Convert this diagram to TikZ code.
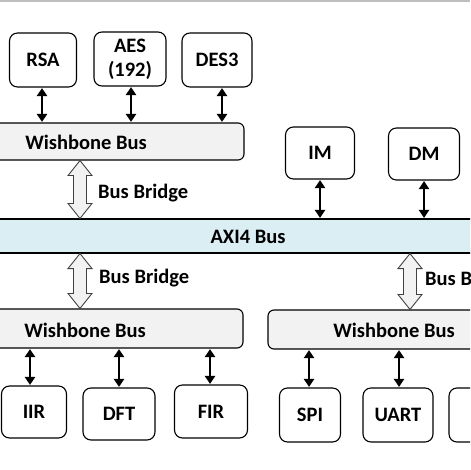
\documentclass[tikz,border=0pt]{standalone}
\usepackage{fontspec}
\setmainfont{Carlito}
\usetikzlibrary{arrows.meta,calc}
\definecolor{axiblue}{HTML}{DAEEF3}
\definecolor{wbgray}{HTML}{F2F2F2}
\definecolor{topline}{HTML}{BFBFBF}
\begin{document}
\begin{tikzpicture}[x=1pt,y=-1pt,
  font=\fontsize{20.5}{22}\selectfont\bfseries,
  ipbox/.style={draw=black,line width=1.1pt,rounded corners=8pt,fill=white,inner sep=0pt,align=center},
  busbar/.style={draw=black,line width=1.1pt,inner sep=0pt},
  wbbar/.style={busbar,rounded corners=6pt,fill=wbgray},
  link/.style={line width=2.4pt,{Triangle[length=8pt,width=10pt]}-{Triangle[length=8pt,width=10pt]},shorten <=0.5pt,shorten >=0.5pt},
  bridge/.style={draw=black!75,line width=0.9pt,fill=wbgray,line join=miter},
  lbl/.style={inner sep=0pt,anchor=west}]
\useasboundingbox (0,0) rectangle (470,470);
\clip (0,0) rectangle (470,470);
\fill[white] (0,0) rectangle (470,470);
\fill[topline] (0,0) rectangle (470,2.5);

% buses
\node[wbbar,minimum width=254,minimum height=37] (wbtop) at (117,141.5) {};
\node[inner sep=0pt] (wbtopl) at (86,142) {Wishbone Bus};
\node[busbar,fill=axiblue,minimum width=490,minimum height=34] (axi) at (235,236) {};
\node[inner sep=0pt] (axil) at (248,237) {AXI4 Bus};
\node[wbbar,minimum width=254,minimum height=39] (wbbl) at (116,328.5) {};
\node[inner sep=0pt] (wbbll) at (85,330) {Wishbone Bus};
\node[wbbar,minimum width=252,minimum height=39] (wbbr) at (394,329.5) {};
\node[inner sep=0pt] (wbbrl) at (394,330) {Wishbone Bus};

% IP blocks
\node[ipbox,minimum width=67,minimum height=54] (rsa) at (43,60) {RSA};
\node[ipbox,minimum width=72,minimum height=54,font=\fontsize{20.5}{24}\selectfont\bfseries] (aes) at (130,59) {AES\\(192)};
\node[ipbox,minimum width=70,minimum height=54] (des) at (217,60) {DES3};
\node[ipbox,minimum width=69,minimum height=52] (im) at (320,153) {IM};
\node[ipbox,minimum width=71,minimum height=52] (dm) at (424,154) {DM};
\node[ipbox,minimum width=65,minimum height=52] (iir) at (34,412) {IIR};
\node[ipbox,minimum width=72,minimum height=52] (dft) at (119,414) {DFT};
\node[ipbox,minimum width=73,minimum height=53] (fir) at (211,411.5) {FIR};
\node[ipbox,minimum width=61,minimum height=54] (spi) at (310,415) {SPI};
\node[ipbox,minimum width=70,minimum height=54] (uart) at (398,415) {UART};
\node[ipbox,minimum width=71,minimum height=54] (ext) at (484.5,415) {};

% links
\draw[link] ([xshift=-1]rsa.south) -- ([xshift=-1]rsa.south |- wbtop.north);
\draw[link] ([xshift=1]aes.south) -- ([xshift=1]aes.south |- wbtop.north);
\draw[link] ([xshift=5]des.south) -- ([xshift=5]des.south |- wbtop.north);
\draw[link] (im.south) -- (im.south |- axi.north);
\draw[link] (dm.south) -- (dm.south |- axi.north);
\draw[link] ([xshift=-4]iir.north |- wbbl.south) -- ([xshift=-4]iir.north);
\draw[link] (dft.north |- wbbl.south) -- (dft.north);
\draw[link] ([xshift=-1]fir.north |- wbbl.south) -- ([xshift=-1]fir.north);
\draw[link] ([xshift=-1]spi.north |- wbbr.south) -- ([xshift=-1]spi.north);
\draw[link] ([xshift=1]uart.north |- wbbr.south) -- ([xshift=1]uart.north);

% bridges
\coordinate (xl) at (80,0);
\coordinate (xr) at (410,0);
\coordinate (b1t) at (wbtop.south -| xl);
\coordinate (b1b) at (axi.north -| xl);
\coordinate (b2t) at (axi.south -| xl);
\coordinate (b2b) at (wbbl.north -| xl);
\coordinate (b3t) at (axi.south -| xr);
\coordinate (b3b) at (wbbr.north -| xr);
\foreach \T/\B in {b1t/b1b,b2t/b2b,b3t/b3b}{
  \draw[bridge] (\T) -- ++(12,15) -- ++(-5.5,0) -- ($(\B)+(6.5,-15)$) -- ++(5.5,0) -- (\B)
    -- ++(-12,-15) -- ++(5.5,0) -- ($(\T)+(-6.5,15)$) -- ++(-5.5,0) -- cycle;
}
\node[lbl] (bb1) at (98,193) {Bus Bridge};
\node[lbl] (bb2) at (99,278) {Bus Bridge};
\node[lbl] (bb3) at (425,280) {Bus Bridge};
\end{tikzpicture}
\end{document}
